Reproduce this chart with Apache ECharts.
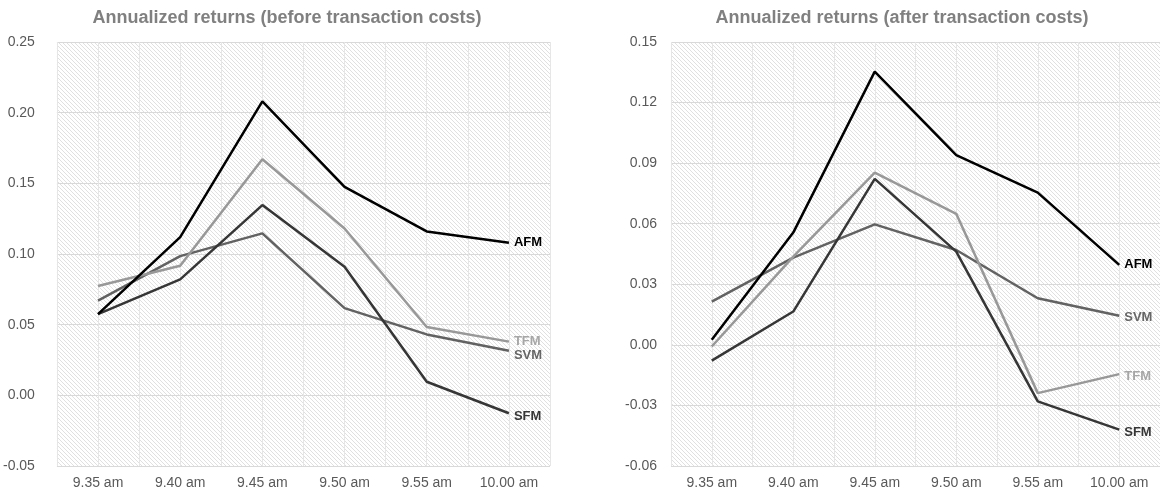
<!DOCTYPE html>
<html>
<head>
<meta charset="utf-8">
<script src="https://cdn.jsdelivr.net/npm/echarts@6/dist/echarts.min.js"></script>
<style>
html,body{margin:0;padding:0;background:#fff;}
#c{width:1160px;height:496px;}
</style>
</head>
<body>
<div id="c"></div>
<script>
var categories = ['9.35 am','9.40 am','9.45 am','9.50 am','9.55 am','10.00 am'];
var seriesNames = ['AFM','TFM','SVM','SFM'];
// before transaction costs
var beforeAFM = [0.0575, 0.112, 0.208, 0.1475, 0.116, 0.108];
var beforeTFM = [0.0773, 0.0917, 0.167, 0.118, 0.0483, 0.038];
var beforeSVM = [0.067, 0.0985, 0.1146, 0.0617, 0.0431, 0.0316];
var beforeSFM = [0.0575, 0.082, 0.1346, 0.091, 0.0096, -0.0127];
// after transaction costs
var afterAFM = [0.0025, 0.0556, 0.1353, 0.094, 0.0754, 0.0396];
var afterTFM = [-0.0008, 0.0437, 0.0853, 0.0649, -0.0239, -0.0145];
var afterSVM = [0.0214, 0.0432, 0.0597, 0.047, 0.0231, 0.0144];
var afterSFM = [-0.0078, 0.0165, 0.0822, 0.0462, -0.028, -0.042];
var titles = ['Annualized returns (before transaction costs)', 'Annualized returns (after transaction costs)'];

// hatch pattern
var pc = document.createElement('canvas');
pc.width = 4; pc.height = 4;
var pctx = pc.getContext('2d');
pctx.fillStyle = '#ffffff';
pctx.fillRect(0,0,4,4);
pctx.strokeStyle = '#e0e0e0';
pctx.lineWidth = 1;
pctx.beginPath();
pctx.moveTo(-1,-1); pctx.lineTo(5,5);
pctx.moveTo(-1,3); pctx.lineTo(1,5);
pctx.moveTo(3,-1); pctx.lineTo(5,1);
pctx.stroke();

var FONT = 'Arial, Liberation Sans, sans-serif';
var colors = {AFM:'#000000', TFM:'#989898', SVM:'#626262', SFM:'#363636'};
var labelColors = {AFM:'#000000', TFM:'#a6a6a6', SVM:'#666666', SFM:'#363636'};

var chart = echarts.init(document.getElementById('c'), null, {renderer:'canvas'});

function mkSeries(name, data, gi, dy){
  return {
    name: name, type: 'line', data: data,
    xAxisIndex: gi*2, yAxisIndex: gi,
    symbol: 'none', smooth: false,
    lineStyle: {color: colors[name], width: 2.5},
    itemStyle: {color: colors[name]},
    z: name === 'AFM' ? 5 : 3,
    endLabel: {show: true, formatter: name, distance: 5, offset: [0, dy],
      color: labelColors[name], fontWeight: 'bold', fontSize: 13, fontFamily: FONT},
    emphasis: {disabled: true},
    animation: false
  };
}

var grids = [
  {left: 55, top: 42, width: 495, height: 424},
  {left: 671, top: 42, width: 494, height: 424}
];
grids.forEach(function(g){ g.show = true; g.backgroundColor = {image: pc, repeat: 'repeat'}; g.borderWidth = 0; });

var xAxes = [], yAxes = [];
[0,1].forEach(function(i){
  xAxes.push({
    type: 'category', gridIndex: i, data: categories, boundaryGap: true,
    axisLine: {show: false}, axisTick: {show: false}, splitLine: {show: false},
    axisLabel: {color: '#595959', fontSize: 14, margin: 10, fontFamily: FONT}
  });
  xAxes.push({
    type: 'value', gridIndex: i, min: 0, max: 12, interval: 1, position: 'top',
    axisLine: {show: false}, axisTick: {show: false}, axisLabel: {show: false},
    splitLine: {show: true, lineStyle: {color: '#e6e6e6', width: 1}}
  });
});
yAxes.push({
  type: 'value', gridIndex: 0, min: -0.05, max: 0.25, interval: 0.05,
  axisLine: {show: false}, axisTick: {show: false},
  axisLabel: {color: '#595959', fontSize: 14, margin: 22, formatter: function(v){return v.toFixed(2);}, fontFamily: FONT},
  splitLine: {show: true, lineStyle: {color: '#d9d9d9', width: 1}}
});
yAxes.push({
  type: 'value', gridIndex: 1, min: -0.06, max: 0.15, interval: 0.03,
  axisLine: {show: false}, axisTick: {show: false},
  axisLabel: {color: '#595959', fontSize: 14, margin: 14, formatter: function(v){return v.toFixed(2);}, fontFamily: FONT},
  splitLine: {show: true, lineStyle: {color: '#d9d9d9', width: 1}}
});

var option = {
  backgroundColor: '#ffffff',
  animation: false,
  title: [
    {text: titles[0], left: 282, top: 4, textAlign: 'center',
      textStyle: {color: '#808080', fontSize: 18, fontWeight: 'bold', fontFamily: FONT}},
    {text: titles[1], left: 897, top: 4, textAlign: 'center',
      textStyle: {color: '#808080', fontSize: 18, fontWeight: 'bold', fontFamily: FONT}}
  ],
  grid: grids,
  xAxis: xAxes,
  yAxis: yAxes,
  series: [
    mkSeries('SVM', beforeSVM, 0, 5),
    mkSeries('TFM', beforeTFM, 0, 0),
    mkSeries('SFM', beforeSFM, 0, 3),
    mkSeries('AFM', beforeAFM, 0, 0),
    mkSeries('SVM', afterSVM, 1, 2),
    mkSeries('TFM', afterTFM, 1, 2),
    mkSeries('SFM', afterSFM, 1, 3),
    mkSeries('AFM', afterAFM, 1, 0)
  ]
};
chart.setOption(option);
</script>
</body>
</html>
